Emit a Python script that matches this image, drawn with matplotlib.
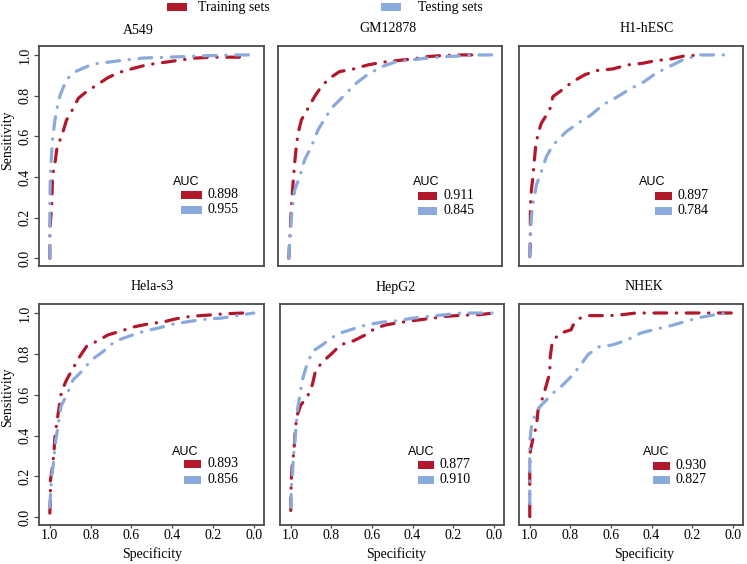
import matplotlib
matplotlib.use("Agg")
import matplotlib.pyplot as plt
from matplotlib.patches import Rectangle

# ---------------- data ----------------
panel_names = ["A549", "GM12878", "H1-hESC", "Hela-s3", "HepG2", "NHEK"]
auc_train = ["0.898", "0.911", "0.897", "0.893", "0.877", "0.930"]
auc_test = ["0.955", "0.845", "0.784", "0.856", "0.910", "0.827"]
legend_labels = ["Training sets", "Testing sets"]
tick_values = [0.0, 0.2, 0.4, 0.6, 0.8, 1.0]
tick_labels = ["0.0", "0.2", "0.4", "0.6", "0.8", "1.0"]

a549_train_spec = [1, 1, 0.99, 0.987, 0.975, 0.964, 0.943, 0.918, 0.894, 0.86, 0.82, 0.77, 0.714, 0.657, 0.59, 0.526, 0.45, 0.38, 0.297, 0.2, 0.1, 0.044]
a549_train_sens = [0, 0.139, 0.27, 0.402, 0.467, 0.549, 0.598, 0.68, 0.721, 0.787, 0.82, 0.852, 0.889, 0.915, 0.934, 0.951, 0.962, 0.972, 0.984, 0.989, 0.989, 0.989]
a549_test_spec = [1, 1, 0.997, 0.987, 0.975, 0.964, 0.95, 0.918, 0.87, 0.79, 0.71, 0.63, 0.54, 0.395, 0.265, 0.1, 0]
a549_test_sens = [0, 0.27, 0.42, 0.58, 0.68, 0.74, 0.80, 0.88, 0.92, 0.955, 0.965, 0.975, 0.985, 0.99, 0.995, 1.0, 1.0]

gm_train_spec = [1, 0.995, 0.987, 0.979, 0.971, 0.963, 0.954, 0.938, 0.905, 0.873, 0.84, 0.8, 0.75, 0.685, 0.61, 0.54, 0.47, 0.39, 0.317, 0.243, 0.16, 0.064]
gm_train_sens = [0, 0.09, 0.254, 0.369, 0.467, 0.549, 0.615, 0.68, 0.738, 0.795, 0.844, 0.885, 0.918, 0.93, 0.951, 0.964, 0.972, 0.98, 0.992, 0.997, 1.0, 1.0]
gm_test_spec = [1, 0.995, 0.987, 0.971, 0.946, 0.922, 0.889, 0.856, 0.824, 0.79, 0.725, 0.668, 0.61, 0.54, 0.47, 0.4, 0.325, 0.227, 0.16, 0.064, 0]
gm_test_sens = [0, 0.09, 0.205, 0.336, 0.402, 0.484, 0.549, 0.631, 0.684, 0.738, 0.803, 0.861, 0.905, 0.943, 0.967, 0.975, 0.984, 0.992, 0.995, 1.0, 1.0]

h1_train_spec = [1, 0.997, 0.997, 0.992, 0.984, 0.979, 0.971, 0.959, 0.943, 0.902, 0.886, 0.837, 0.788, 0.730, 0.673, 0.592, 0.518, 0.444, 0.379, 0.306, 0.240, 0.150]
h1_train_sens = [0.008, 0.09, 0.254, 0.336, 0.402, 0.467, 0.549, 0.615, 0.664, 0.730, 0.795, 0.831, 0.869, 0.902, 0.923, 0.931, 0.951, 0.959, 0.972, 0.98, 0.995, 1.0]
h1_test_spec = [1, 1, 0.997, 0.992, 0.984, 0.967, 0.943, 0.918, 0.886, 0.820, 0.763, 0.698, 0.641, 0.567, 0.510, 0.436, 0.379, 0.306, 0.240, 0.158, 0.085, 0]
h1_test_sens = [0.008, 0.049, 0.123, 0.205, 0.270, 0.361, 0.426, 0.5, 0.557, 0.623, 0.664, 0.705, 0.754, 0.795, 0.831, 0.869, 0.910, 0.946, 0.979, 1.0, 1.0, 1.0]

hela_train_spec = [1, 0.997, 0.997, 0.987, 0.979, 0.975, 0.964, 0.954, 0.943, 0.918, 0.886, 0.853, 0.820, 0.771, 0.714, 0.641, 0.592, 0.510, 0.444, 0.379, 0.306, 0.232, 0.158, 0.052]
hela_train_sens = [0.02, 0.098, 0.18, 0.246, 0.328, 0.393, 0.475, 0.541, 0.615, 0.672, 0.730, 0.787, 0.836, 0.861, 0.893, 0.915, 0.931, 0.948, 0.956, 0.972, 0.984, 0.989, 0.995, 1.0]
hela_test_spec = [1, 0.992, 0.984, 0.971, 0.959, 0.946, 0.918, 0.886, 0.845, 0.796, 0.739, 0.681, 0.616, 0.542, 0.469, 0.395, 0.314, 0.232, 0.158, 0.085, 0]
hela_test_sens = [0.049, 0.197, 0.246, 0.377, 0.451, 0.541, 0.598, 0.672, 0.713, 0.770, 0.811, 0.861, 0.885, 0.910, 0.926, 0.946, 0.959, 0.970, 0.975, 0.987, 1.0]

hepg2_train_spec = [1, 1, 0.997, 0.992, 0.984, 0.979, 0.971, 0.951, 0.918, 0.894, 0.877, 0.837, 0.796, 0.755, 0.690, 0.632, 0.583, 0.526, 0.444, 0.363, 0.297, 0.232, 0.150, 0.069, 0]
hepg2_train_sens = [0.033, 0.098, 0.189, 0.262, 0.328, 0.410, 0.492, 0.549, 0.590, 0.648, 0.721, 0.767, 0.803, 0.844, 0.864, 0.893, 0.926, 0.943, 0.956, 0.967, 0.975, 0.984, 0.989, 0.992, 1.0]
hepg2_test_spec = [1, 0.997, 0.992, 0.984, 0.975, 0.967, 0.954, 0.943, 0.926, 0.894, 0.845, 0.771, 0.690, 0.624, 0.542, 0.477, 0.395, 0.314, 0.232, 0.158, 0]
hepg2_test_sens = [0.049, 0.148, 0.213, 0.328, 0.426, 0.525, 0.607, 0.672, 0.730, 0.811, 0.844, 0.897, 0.923, 0.943, 0.956, 0.962, 0.975, 0.984, 0.992, 1.0, 1.0]

nhek_train_spec = [1, 1, 1, 1, 0.997, 0.984, 0.967, 0.959, 0.943, 0.935, 0.918, 0.902, 0.899, 0.889, 0.853, 0.796, 0.788, 0.760, 0.714, 0.608, 0.542, 0.477, 0]
nhek_train_sens = [0.003, 0.082, 0.164, 0.246, 0.328, 0.385, 0.45, 0.525, 0.566, 0.59, 0.648, 0.705, 0.787, 0.86, 0.90, 0.918, 0.938, 0.972, 0.987, 0.987, 0.992, 1.0, 1.0]
nhek_test_spec = [1, 1, 1, 1, 0.992, 0.975, 0.951, 0.918, 0.886, 0.845, 0.796, 0.755, 0.714, 0.665, 0.592, 0.518, 0.453, 0.379, 0.305, 0.232, 0.158, 0.069, 0]
nhek_test_sens = [0.066, 0.164, 0.262, 0.369, 0.443, 0.5, 0.541, 0.574, 0.607, 0.64, 0.689, 0.738, 0.795, 0.833, 0.844, 0.869, 0.902, 0.921, 0.938, 0.959, 0.979, 0.995, 1.0]

train_curves = [(a549_train_spec, a549_train_sens), (gm_train_spec, gm_train_sens), (h1_train_spec, h1_train_sens),
                (hela_train_spec, hela_train_sens), (hepg2_train_spec, hepg2_train_sens), (nhek_train_spec, nhek_train_sens)]
test_curves = [(a549_test_spec, a549_test_sens), (gm_test_spec, gm_test_sens), (h1_test_spec, h1_test_sens),
               (hela_test_spec, hela_test_sens), (hepg2_test_spec, hepg2_test_sens), (nhek_test_spec, nhek_test_sens)]

# ---------------- style / layout ----------------
RED = "#B2182B"
BLUE = "#8AA9DC"
FRAME = "#4a4a4a"
W, H = 747, 564
SERIF = ["Liberation Serif", "DejaVu Serif"]
SANS = ["Liberation Sans", "DejaVu Sans"]
plt.rcParams["font.family"] = SERIF

fig = plt.figure(figsize=(W / 100, H / 100), dpi=100)

def fx(x):
    return x / W

def fy(y):
    return 1 - y / H

# axes boxes in pixel coords: left, top, right, bottom
boxes = [(39, 46, 264, 266), (278, 46, 502, 266), (519, 46, 743, 266),
         (39, 304, 264, 525), (280, 304, 504, 525), (519, 304, 743, 525)]
title_pos = [(138, 30), (388, 29), (647, 29), (152, 287), (396, 287), (644, 287)]
# AUC legend pixel positions: auc_x, patch_x0, patch_x1, val_x, auc_y, red_y, blue_y
leg_pos = [(173, 181, 202, 207, 182, 194.5, 209.5),
           (413, 418, 437, 443, 182, 196, 211),
           (639, 655, 672, 678, 182, 196, 211),
           (172, 184, 201, 207, 452, 463.5, 479.5),
           (408, 418, 434, 440, 452, 464.5, 479.5),
           (643, 653, 670, 676, 452, 465.5, 479.5)]

dash = (0, (4, 3, 0.1, 3))

for i in range(6):
    l, t, r, b = boxes[i]
    ax = fig.add_axes([fx(l), fy(b), fx(r - l), (b - t) / H])
    ax.set_xlim(1.053, -0.05)
    ax.set_ylim(-0.038, 1.044)
    sp, se = train_curves[i]
    ax.plot(sp, se, color=RED, lw=2.3, linestyle=dash, dash_capstyle="round", solid_capstyle="round")
    sp, se = test_curves[i]
    ax.plot(sp, se, color=BLUE, lw=2.3, linestyle=dash, dash_capstyle="round", solid_capstyle="round")
    for s in ax.spines.values():
        s.set_color(FRAME)
        s.set_linewidth(1.3)
    ax.set_xticks(tick_values)
    ax.set_yticks(tick_values)
    if i % 3 == 0:
        ax.set_yticklabels(tick_labels, rotation=90, va="center", fontsize=10)
        ax.tick_params(axis="y", length=3.5, width=0.9, color=FRAME, pad=2)
    else:
        ax.tick_params(axis="y", left=False, labelleft=False)
    if i >= 3:
        ax.set_xticklabels(tick_labels, fontsize=10)
        ax.tick_params(axis="x", length=2, width=0.9, color=FRAME, pad=1)
    else:
        ax.tick_params(axis="x", bottom=False, labelbottom=False)

    tx, ty = title_pos[i]
    fig.text(fx(tx), fy(ty), panel_names[i], ha="center", va="center", fontsize=10)

    ax_x, p0, p1, vx, ay, ry, by = leg_pos[i]
    fig.text(fx(ax_x), fy(ay), "AUC", ha="left", va="center", fontsize=9, family=SANS)
    for yy, col, val in ((ry, RED, auc_train[i]), (by, BLUE, auc_test[i])):
        fig.patches.append(Rectangle((fx(p0), fy(yy + 4)), fx(p1 - p0), 8 / H,
                                     transform=fig.transFigure, facecolor=col, edgecolor="none"))
        fig.text(fx(vx), fy(yy), val, ha="left", va="center", fontsize=10)

# axis labels
fig.text(fx(8), fy(140), "Sensitivity", rotation=90, ha="center", va="center", fontsize=10)
fig.text(fx(8), fy(397), "Sensitivity", rotation=90, ha="center", va="center", fontsize=10)
for xc in (152, 396, 644):
    fig.text(fx(xc), fy(554), "Specificity", ha="center", va="center", fontsize=10)

# top legend
for x0, x1, tx, col, lab in ((167, 187, 198, RED, legend_labels[0]), (381, 401, 418, BLUE, legend_labels[1])):
    fig.patches.append(Rectangle((fx(x0), fy(10.5)), fx(x1 - x0), 7.5 / H,
                                 transform=fig.transFigure, facecolor=col, edgecolor="none"))
    fig.text(fx(tx), fy(7), lab, ha="left", va="center", fontsize=10)

fig.savefig("out.png", dpi=100)
